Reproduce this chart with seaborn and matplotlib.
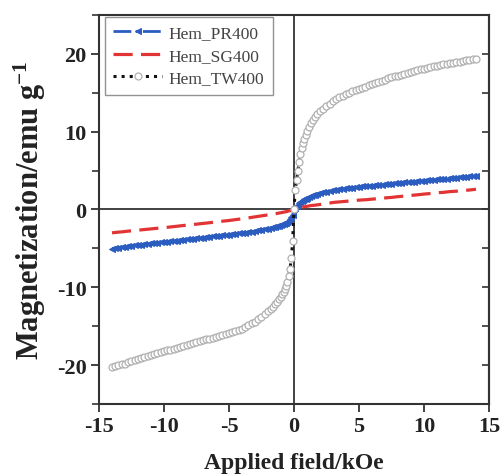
import matplotlib
matplotlib.use("Agg")
import matplotlib.pyplot as plt
import seaborn as sns
import pandas as pd
from matplotlib.ticker import MultipleLocator

# Applied field (kOe) sampling shared by all three samples
field = [-14, -13.75, -13.5, -13.25, -13, -12.75, -12.5, -12.25, -12, -11.75,
         -11.5, -11.25, -11, -10.75, -10.5, -10.25, -10, -9.75, -9.5, -9.25,
         -9, -8.75, -8.5, -8.25, -8, -7.75, -7.5, -7.25, -7, -6.75, -6.5,
         -6.25, -6, -5.75, -5.5, -5.25, -5, -4.75, -4.5, -4.25, -4, -3.75,
         -3.5, -3.25, -3, -2.75, -2.5, -2.25, -2,
         -1.8, -1.6, -1.45, -1.3, -1.15, -1.0, -0.9, -0.8, -0.7, -0.6, -0.5,
         -0.4, -0.3, -0.2, -0.1, 0,
         0.1, 0.2, 0.3, 0.4, 0.5, 0.6, 0.7, 0.8, 0.9, 1.0, 1.15, 1.3, 1.45,
         1.6, 1.8,
         2, 2.25, 2.5, 2.75, 3, 3.25, 3.5, 3.75, 4, 4.25, 4.5, 4.75, 5, 5.25,
         5.5, 5.75, 6, 6.25, 6.5, 6.75, 7, 7.25, 7.5, 7.75, 8, 8.25, 8.5,
         8.75, 9, 9.25, 9.5, 9.75, 10, 10.25, 10.5, 10.75, 11, 11.25, 11.5,
         11.75, 12, 12.25, 12.5, 12.75, 13, 13.25, 13.5, 13.75, 14]

# Magnetization (emu/g)
m_pr400 = [-5.02, -4.96, -4.90, -4.84, -4.78, -4.72, -4.67, -4.61, -4.56, -4.51,
           -4.46, -4.41, -4.36, -4.31, -4.27, -4.22, -4.17, -4.12, -4.08, -4.03,
           -3.99, -3.94, -3.90, -3.85, -3.80, -3.75, -3.71, -3.66, -3.62, -3.57,
           -3.52, -3.47, -3.43, -3.38, -3.33, -3.28, -3.23, -3.18, -3.13, -3.07,
           -3.02, -2.96, -2.90, -2.84, -2.77, -2.70, -2.62, -2.54, -2.45,
           -2.38, -2.30, -2.22, -2.15, -2.08, -2.00, -1.93, -1.85, -1.78, -1.70,
           -1.58, -1.42, -1.25, -1.00, -0.70, 0.0,
           0.25, 0.40, 0.60, 0.80, 0.97, 1.10, 1.20, 1.30, 1.40, 1.50, 1.60,
           1.70, 1.80, 1.90, 2.00,
           2.10, 2.20, 2.30, 2.38, 2.45, 2.53, 2.60, 2.66, 2.72, 2.77, 2.82,
           2.87, 2.92, 2.96, 3.00, 3.04, 3.08, 3.12, 3.16, 3.20, 3.24, 3.28,
           3.32, 3.36, 3.40, 3.44, 3.48, 3.52, 3.55, 3.59, 3.62, 3.66, 3.70,
           3.74, 3.78, 3.82, 3.86, 3.90, 3.94, 3.98, 4.02, 4.06, 4.10, 4.14,
           4.18, 4.22, 4.27, 4.31, 4.36]

m_sg400 = [-3.00, -2.95, -2.91, -2.88, -2.83, -2.78, -2.75, -2.70, -2.66, -2.62,
           -2.58, -2.54, -2.50, -2.46, -2.42, -2.37, -2.33, -2.29, -2.25, -2.20,
           -2.15, -2.11, -2.06, -2.02, -1.98, -1.93, -1.88, -1.84, -1.80, -1.75,
           -1.70, -1.65, -1.60, -1.55, -1.50, -1.46, -1.42, -1.36, -1.30, -1.25,
           -1.20, -1.14, -1.08, -1.01, -0.95, -0.88, -0.82, -0.76, -0.70,
           -0.65, -0.60, -0.55, -0.50, -0.46, -0.42, -0.38, -0.35, -0.31, -0.28,
           -0.23, -0.18, -0.15, -0.10, -0.05, 0.0,
           0.05, 0.10, 0.15, 0.18, 0.22, 0.30, 0.32, 0.35, 0.38, 0.40, 0.45,
           0.50, 0.52, 0.55, 0.60,
           0.65, 0.70, 0.75, 0.83, 0.90, 0.94, 0.98, 1.02, 1.05, 1.08, 1.12,
           1.16, 1.20, 1.22, 1.25, 1.29, 1.32, 1.36, 1.40, 1.46, 1.50, 1.52,
           1.55, 1.60, 1.65, 1.68, 1.72, 1.76, 1.80, 1.84, 1.88, 1.93, 1.98,
           2.01, 2.05, 2.10, 2.15, 2.17, 2.20, 2.25, 2.30, 2.32, 2.35, 2.40,
           2.45, 2.47, 2.50, 2.55, 2.60]

m_tw400 = [-20.30, -20.17, -20.05, -19.92, -19.80, -19.65, -19.50, -19.37, -19.25,
           -19.12, -19.00, -18.87, -18.75, -18.62, -18.50, -18.37, -18.25, -18.12,
           -18.00, -17.87, -17.75, -17.62, -17.50, -17.37, -17.25, -17.12, -17.00,
           -16.90, -16.80, -16.70, -16.60, -16.47, -16.35, -16.22, -16.10, -16.00,
           -15.90, -15.75, -15.60, -15.45, -15.30, -15.10, -14.90, -14.65, -14.40,
           -14.10, -13.80, -13.45, -13.10,
           -12.80, -12.50, -12.20, -11.90, -11.55, -11.20, -10.90, -10.60, -10.20,
           -9.80, -9.30, -8.50, -7.60, -6.20, -4.00, 0.0,
           2.50, 3.80, 5.00, 6.10, 7.10, 7.90, 8.50, 9.10, 9.60, 10.10, 10.60,
           11.10, 11.50, 11.90, 12.25,
           12.60, 12.95, 13.30, 13.60, 13.90, 14.15, 14.40, 14.60, 14.80, 15.00,
           15.20, 15.35, 15.50, 15.65, 15.80, 15.95, 16.10, 16.25, 16.40, 16.55,
           16.70, 16.85, 17.00, 17.10, 17.20, 17.33, 17.45, 17.58, 17.70, 17.80,
           17.90, 18.00, 18.10, 18.20, 18.30, 18.40, 18.50, 18.58, 18.65, 18.72,
           18.80, 18.88, 18.95, 19.02, 19.10, 19.18, 19.25, 19.32, 19.40]

samples = ["Hem_PR400", "Hem_SG400", "Hem_TW400"]

df = pd.DataFrame({
    "H": field * 3,
    "M": m_pr400 + m_sg400 + m_tw400,
    "sample": [s for s in samples for _ in field],
})

sns.set_style("ticks")
plt.rcParams["font.family"] = ["Liberation Serif", "DejaVu Serif"]
plt.rcParams["axes.unicode_minus"] = False
plt.rcParams["mathtext.fontset"] = "custom"
plt.rcParams["mathtext.rm"] = "Liberation Serif:bold"
plt.rcParams["mathtext.bf"] = "Liberation Serif:bold"
plt.rcParams["mathtext.default"] = "bf"

fig = plt.figure(figsize=(5.01, 4.77), dpi=100)
ax = fig.add_axes([0.1976, 0.151, 0.7784, 0.8155])

axis_col = "#333333"
ax.axhline(0, color=axis_col, lw=1.3, zorder=1)
ax.axvline(0, color=axis_col, lw=1.3, zorder=1)

styles = {
    "Hem_PR400": dict(color="#2b5cc0", ls="-.", lw=2.0, marker="<", ms=4.8,
                      mfc="#2b5cc0", mec="#2b5cc0"),
    "Hem_SG400": dict(color="#e23434", ls=(0, (6, 2.6)), lw=2.3, marker=None),
    "Hem_TW400": dict(color="#111111", ls=":", lw=2.2, marker="o", ms=5,
                      mfc="white", mec="#b0b0b0", mew=0.9),
}

for s in samples:
    sub = df[df["sample"] == s]
    sns.lineplot(data=sub, x="H", y="M", ax=ax, sort=False, estimator=None,
                 label=s, zorder=3, **styles[s])

ax.set_xlim(-15, 15)
ax.set_ylim(-25, 25)
ax.xaxis.set_major_locator(MultipleLocator(5))
ax.yaxis.set_major_locator(MultipleLocator(10))
ax.yaxis.set_minor_locator(MultipleLocator(5))

for sp in ax.spines.values():
    sp.set_visible(True)
    sp.set_color(axis_col)
    sp.set_linewidth(1.5)

ax.tick_params(axis="both", which="major", direction="out", length=6, width=1.3,
               color=axis_col, labelsize=16, pad=3)
ax.tick_params(axis="y", which="minor", direction="out", length=5, width=1.2,
               color=axis_col)
for lab in ax.get_xticklabels() + ax.get_yticklabels():
    lab.set_fontweight("bold")
    lab.set_color("#222222")

# mirrored inward ticks on the right side
sec = ax.secondary_yaxis("right")
sec.set_yticks([-20, -10, 0, 10, 20])
sec.yaxis.set_minor_locator(MultipleLocator(5))
sec.tick_params(axis="y", which="both", direction="in", length=5, width=1.2,
                color=axis_col, labelright=False)
sec.spines["right"].set_color(axis_col)
sec.spines["right"].set_linewidth(1.5)

ax.set_xlabel("Applied field/kOe", fontsize=17, fontweight="bold",
              color="#222222", labelpad=11)
ax.set_ylabel("Magnetization/emu g$^{-1}$", fontsize=22, fontweight="bold",
              color="#222222", labelpad=6)

leg = ax.legend(loc="upper left", bbox_to_anchor=(0.01, 1.0), frameon=True,
                fancybox=False, edgecolor="#777777", fontsize=12.5,
                handlelength=2.8, handletextpad=0.4, labelspacing=0.35,
                borderpad=0.5, borderaxespad=0.1)
leg.get_frame().set_linewidth(1.0)
for t in leg.get_texts():
    t.set_color("#444444")

fig.savefig("out.png", dpi=100, facecolor="white")
